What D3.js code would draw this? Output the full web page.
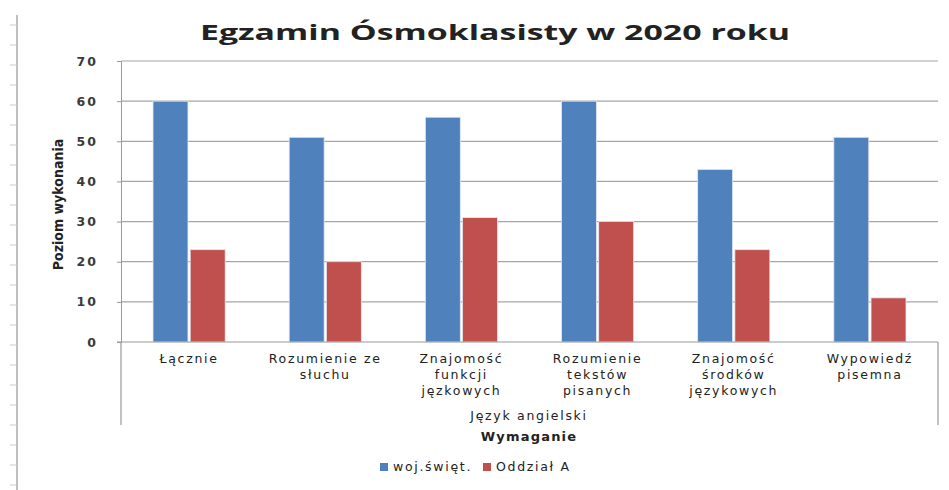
<!DOCTYPE html>
<html lang="pl">
<head>
<meta charset="UTF-8">
<title>Egzamin Ósmoklasisty w 2020 roku</title>
<script src="https://d3js.org/d3.v7.min.js"></script>
<style>
  body { margin: 0; background: #fff; }
  svg text { fill: #222; }
  .tick text { font-family: "DejaVu Sans", sans-serif; font-size: 12.5px; font-weight: bold; fill: #3a3a3a; letter-spacing: 2px; }
  .cat { font-family: "DejaVu Sans", sans-serif; font-size: 12.5px; fill: #222; letter-spacing: 1.7px; }
</style>
</head>
<body>
<div id="chart"></div>
<script>
// data
const categories = [
  ["Łącznie"],
  ["Rozumienie ze", "słuchu"],
  ["Znajomość", "funkcji", "jęzkowych"],
  ["Rozumienie", "tekstów", "pisanych"],
  ["Znajomość", "środków", "językowych"],
  ["Wypowiedź", "pisemna"]
];
const seriesNames = ["woj.święt.", "Oddział A"];
const wojSwiet = [60, 51, 56, 60, 43, 51];
const oddzialA = [23, 20, 31, 30, 23, 11];
const yTicks = [0, 10, 20, 30, 40, 50, 60, 70];
const colors = ["#4f81bd", "#c0504d"];

const W = 949, H = 490;
const plot = { left: 121, right: 938, top: 61, bottom: 342 };

const svg = d3.select("#chart").append("svg")
  .attr("width", W).attr("height", H);

// ruler strip at the left edge
svg.append("line")
  .attr("x1", 17).attr("x2", 17).attr("y1", 15).attr("y2", H)
  .attr("stroke", "#aaa").attr("stroke-width", 1.5);
svg.selectAll(".ruler").data(d3.range(25, H, 20)).join("line")
  .attr("x1", 10).attr("x2", 17).attr("y1", d => d).attr("y2", d => d)
  .attr("stroke", "#ccc");

const x0 = d3.scaleBand().domain(d3.range(categories.length))
  .range([plot.left, plot.right]).paddingInner(0.47).paddingOuter(0.235);
const x1 = d3.scaleBand().domain([0, 1]).range([0, x0.bandwidth()]).paddingInner(0.06);
const y = d3.scaleLinear().domain([0, 70]).range([plot.bottom, plot.top]);

// gridlines
svg.append("g").selectAll("line").data(yTicks.filter(d => d > 0)).join("line")
  .attr("x1", plot.left).attr("x2", plot.right)
  .attr("y1", d => y(d)).attr("y2", d => y(d))
  .attr("stroke", "#a6a6a6").attr("stroke-width", 1.2);

// y axis
const yAxis = svg.append("g")
  .attr("transform", `translate(${plot.left},0)`)
  .call(d3.axisLeft(y).tickValues(yTicks).tickSize(4).tickPadding(19));
yAxis.select(".domain").attr("stroke", "#999");
yAxis.selectAll(".tick line").attr("stroke", "#999");

// bars
const rows = categories.map((c, i) => ({ i, vals: [wojSwiet[i], oddzialA[i]] }));
const groups = svg.append("g").selectAll("g").data(rows).join("g")
  .attr("transform", d => `translate(${x0(d.i)},0)`);
groups.selectAll("rect").data(d => d.vals.map((v, s) => ({ v, s }))).join("rect")
  .attr("x", d => x1(d.s))
  .attr("width", x1.bandwidth())
  .attr("y", d => y(d.v))
  .attr("height", d => y(0) - y(d.v))
  .attr("fill", d => colors[d.s])
  .attr("stroke", "#e4e9f0").attr("stroke-width", 0.8);

// category box lines below zero
svg.append("line").attr("x1", plot.left - 4).attr("x2", plot.right)
  .attr("y1", y(0)).attr("y2", y(0)).attr("stroke", "#999").attr("stroke-width", 1.2);
svg.append("line").attr("x1", plot.left).attr("x2", plot.left)
  .attr("y1", y(0)).attr("y2", 425).attr("stroke", "#999").attr("stroke-width", 1.2);
svg.append("line").attr("x1", plot.right).attr("x2", plot.right)
  .attr("y1", y(0)).attr("y2", 425).attr("stroke", "#999").attr("stroke-width", 1.2);

// category labels
const catText = svg.append("g").selectAll("text").data(categories).join("text")
  .attr("class", "cat")
  .attr("text-anchor", "middle")
  .attr("x", (d, i) => x0(i) + x0.bandwidth() / 2)
  .attr("y", 363);
catText.selectAll("tspan").data(d => d).join("tspan")
  .attr("x", function () { return this.parentNode.getAttribute("x"); })
  .attr("dy", (d, i) => i === 0 ? 0 : 16)
  .text(d => d);

svg.append("text").attr("class", "cat")
  .attr("x", 529).attr("y", 420)
  .attr("text-anchor", "middle").text("Język angielski");
svg.append("text")
  .attr("x", 529).attr("y", 441)
  .attr("text-anchor", "middle")
  .style("font-family", "DejaVu Sans, sans-serif").style("font-size", "13px").style("font-weight", "bold")
  .style("letter-spacing", "1.2px")
  .text("Wymaganie");

// y axis title
svg.append("text")
  .attr("transform", `translate(63,${(plot.top + plot.bottom) / 2 + 3}) rotate(-90)`)
  .attr("text-anchor", "middle")
  .style("font-family", "Liberation Sans Narrow, DejaVu Sans Condensed, sans-serif")
  .style("font-size", "14px").style("font-weight", "bold")
  .text("Poziom wykonania");

// title
svg.append("text")
  .attr("x", 200).attr("y", 40)
  .attr("textLength", 590).attr("lengthAdjust", "spacingAndGlyphs")
  .style("font-family", "Open Sans, sans-serif").style("font-size", "22px").style("font-weight", "bold")
  .text("Egzamin Ósmoklasisty w 2020 roku");

// legend
const legend = svg.append("g").selectAll("g").data(seriesNames).join("g")
  .attr("transform", (d, i) => `translate(${380 + i * 103},471)`);
legend.append("rect").attr("x", 0).attr("y", -8).attr("width", 8).attr("height", 8)
  .attr("fill", (d, i) => colors[i]);
legend.append("text").attr("class", "cat").attr("x", 13).attr("y", 0).text(d => d);
</script>
</body>
</html>
